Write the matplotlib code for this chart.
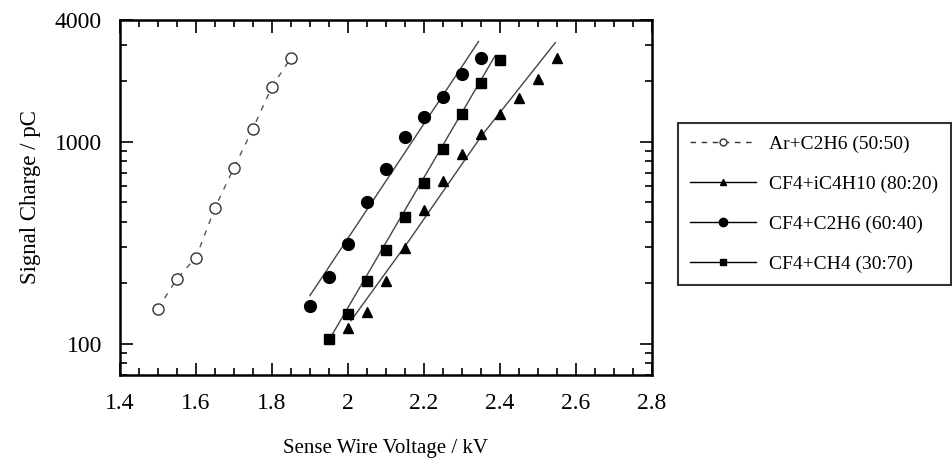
import numpy as np
import matplotlib
matplotlib.use("Agg")
import matplotlib.pyplot as plt
from matplotlib.ticker import MultipleLocator, LogLocator, NullFormatter
from matplotlib.lines import Line2D

plt.rcParams['font.family'] = ['Liberation Serif', 'DejaVu Serif']

# data (kV, pC)
ar_x = [1.50, 1.55, 1.60, 1.65, 1.70, 1.75, 1.80, 1.85]
ar_y = [149, 210, 267, 470, 743, 1160, 1870, 2600]

ic4_x = [2.00, 2.05, 2.10, 2.15, 2.20, 2.25, 2.30, 2.35, 2.40, 2.45, 2.50, 2.55]
ic4_y = [120, 144, 205, 299, 460, 641, 872, 1095, 1375, 1650, 2050, 2600]

c2h6_x = [1.90, 1.95, 2.00, 2.05, 2.10, 2.15, 2.20, 2.25, 2.30, 2.35]
c2h6_y = [154, 215, 313, 500, 735, 1050, 1330, 1670, 2170, 2600]

ch4_x = [1.95, 2.00, 2.05, 2.10, 2.15, 2.20, 2.25, 2.30, 2.35, 2.40]
ch4_y = [106, 141, 205, 292, 425, 627, 920, 1375, 1960, 2550]

ic4_fit_x = [2.008, 2.16, 2.352, 2.546]
ic4_fit_y = [130, 322, 1070, 3090]
c2h6_fit_x = [1.90, 2.344]
c2h6_fit_y = [173, 3130]
ch4_fit_x = [1.96, 2.387]
ch4_fit_y = [112, 2650]

labels = ['Ar+C2H6 (50:50)', 'CF4+iC4H10 (80:20)', 'CF4+C2H6 (60:40)', 'CF4+CH4 (30:70)']

fig = plt.figure(figsize=(9.53, 4.59), dpi=100)
ax = fig.add_axes([0.1259, 0.183, 0.558, 0.7734])

lc = '#444444'
ax.plot(ar_x, ar_y, ls=(0, (4, 5)), color='#555555', lw=1.0, marker='o', mfc='white',
        mec='#333333', ms=8, mew=1.0)
ax.plot(ic4_fit_x, ic4_fit_y, color=lc, lw=1.0)
ax.plot(ic4_x, ic4_y, ls='none', marker='^', color='black', ms=7)
ax.plot(c2h6_fit_x, c2h6_fit_y, color=lc, lw=1.0)
ax.plot(c2h6_x, c2h6_y, ls='none', marker='o', color='black', ms=8.5)
ax.plot(ch4_fit_x, ch4_fit_y, color=lc, lw=1.0)
ax.plot(ch4_x, ch4_y, ls='none', marker='s', color='black', ms=7)

ax.set_yscale('log')
ax.set_xlim(1.4, 2.8)
ax.set_ylim(70, 4000)
ax.set_xticks([1.4, 1.6, 1.8, 2.0, 2.2, 2.4, 2.6, 2.8])
ax.set_xticklabels(['1.4', '1.6', '1.8', '2', '2.2', '2.4', '2.6', '2.8'])
ax.xaxis.set_minor_locator(MultipleLocator(0.05))
ax.set_yticks([100, 1000, 4000])
ax.set_yticklabels(['100', '1000', '4000'])
ax.yaxis.set_minor_locator(LogLocator(base=10, subs=np.arange(2, 10)))
ax.yaxis.set_minor_formatter(NullFormatter())

ax.tick_params(which='both', direction='in', top=True, right=True, labelsize=17, width=1.2)
ax.tick_params(which='major', length=9, pad=13)
ax.tick_params(which='minor', length=5)
for s in ax.spines.values():
    s.set_linewidth(1.8)

ax.set_xlabel('Sense Wire Voltage / kV', fontsize=15, labelpad=18)
ax.set_ylabel('Signal Charge / pC', fontsize=16.5, labelpad=10)

# legend handles
handles = [
    Line2D([], [], ls=(0, (4, 4)), color='#333333', lw=1.0, marker='o', mfc='white', mec='#333333', ms=5),
    Line2D([], [], color='black', lw=1.0, marker='^', ms=5),
    Line2D([], [], color='black', lw=1.0, marker='o', ms=6),
    Line2D([], [], color='black', lw=1.0, marker='s', ms=5),
]
leg = fig.legend(handles, labels, loc='upper left', bbox_to_anchor=(0.711, 1 - 123 / 459),
                 frameon=True, fancybox=False, fontsize=14, handlelength=3.4,
                 labelspacing=1.15, borderpad=0.62, handletextpad=0.7, borderaxespad=0)
leg.get_frame().set_edgecolor('black')
leg.get_frame().set_linewidth(1.5)

fig.savefig('out.png', dpi=100)
